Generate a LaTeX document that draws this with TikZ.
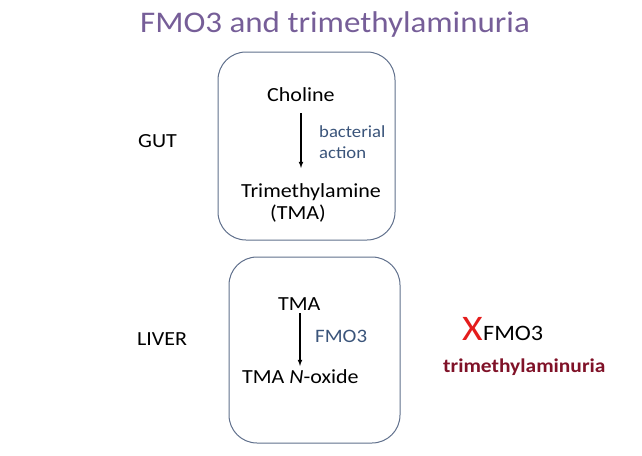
\documentclass[tikz,border=0pt]{standalone}
\usepackage{fontspec}
\setmainfont[FakeStretch=1.1]{Carlito}
\usepackage{tikz}

\definecolor{titlepurple}{RGB}{118,94,152}
\definecolor{stepblue}{RGB}{58,84,122}
\definecolor{boxgrey}{RGB}{96,112,140}
\definecolor{darkred}{RGB}{128,18,40}
\definecolor{crossred}{RGB}{228,28,28}

\tikzset{
	organ/.style={draw=boxgrey, line width=1pt, rounded corners=28pt},
	word/.style={anchor=base west, inner sep=0pt, font=\fontsize{20}{23}\selectfont},
	enzyme/.style={word, text=stepblue, font=\fontsize{17}{20}\selectfont},
	react/.style={-latex, line width=1.1pt}
}

\begin{document}
\begin{tikzpicture}[x=1pt, y=-1pt]

	\useasboundingbox (0,0) rectangle (642,455);
	
	\node[anchor=base west, inner sep=0pt, text=titlepurple, font=\fontsize{30}{35}\selectfont] (title) at (140,32) {FMO3 and trimethylaminuria};
	
	% gut
	\draw[organ] (218,52) rectangle (395,240);
	\node[word] (gut) at (138,147) {GUT};
	\node[word] (choline) at (267,101) {Choline};
	\node[enzyme] (bact) at (319,137) {bacterial};
	\node[enzyme] (action) at (319,158) {action};
	\node[word] (tmalong) at (241,197) {Trimethylamine};
	\node[word] (tmashort) at (270,219) {(TMA)};
	\coordinate (c1) at (301,113);
	\coordinate (c2) at (301,168);
	\draw[react] (c1) -- (c2);
	
	% liver
	\draw[organ] (229,257) rectangle (400,443);
	\node[word] (liver) at (137,345) {LIVER};
	\node[word] (tma) at (278,310) {TMA};
	\node[enzyme, font=\fontsize{19}{22}\selectfont] (fmo) at (315,342) {FMO3};
	\node[word] (oxide) at (242,383) {TMA \textit{N}-oxide};
	\coordinate (t1) at (300,313);
	\coordinate (t2) at (300,366);
	\draw[react] (t1) -- (t2);
	
	\node[anchor=base west, inner sep=0pt, text=crossred, font=\fontsize{36}{40}\selectfont] (cross) at (462,340) {X};
	\node[anchor=base west, inner sep=0pt, font=\fontsize{22}{26}\selectfont] (fmoblock) at (cross.base east) {FMO3};
	\node[anchor=base west, inner sep=0pt, text=darkred, font=\fontsize{19.5}{22}\selectfont\bfseries] (tmau) at (443,372) {trimethylaminuria};

\end{tikzpicture}
\end{document}
